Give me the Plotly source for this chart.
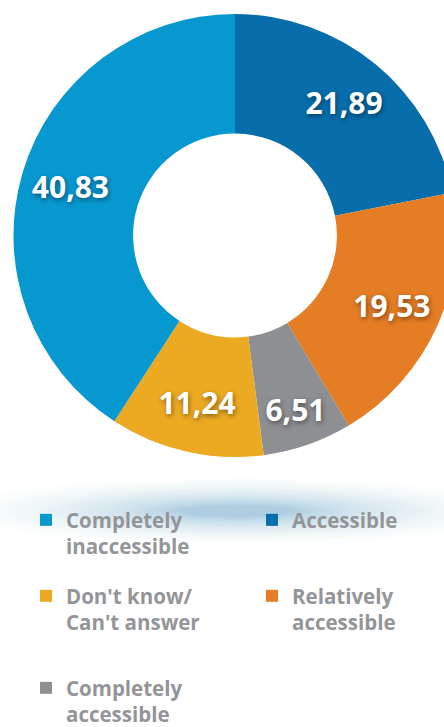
import plotly.graph_objects as go

# ---- data ----
categories = ["Accessible", "Relatively accessible", "Completely accessible",
              "Don't know/ Can't answer", "Completely inaccessible"]
values = [21.89, 19.53, 6.51, 11.24, 40.83]
colors = ["#076dab", "#e57d25", "#8e8f93", "#ecaa22", "#0898d0"]
legend_labels = ["Accessible", "Relatively<br>accessible", "Completely<br>accessible",
                 "Don't know/<br>Can't answer", "Completely<br>inaccessible"]
legend_slot = ["legend2", "legend4", "legend5", "legend3", "legend"]

W, H = 460, 745          # page is clipped to 444x727 below
FONT = "Open Sans"
pie_domain = dict(x=[13.5 / W, 456.5 / W], y=[(H - 457) / H, (H - 14) / H])

fig = go.Figure()
# coloured ring
fig.add_trace(go.Pie(
    labels=categories, values=values, sort=False, direction="clockwise",
    rotation=0, hole=0.46,
    marker=dict(colors=colors, line=dict(width=0)),
    textinfo="none", domain=pie_domain,
    showlegend=False, hoverinfo="label+value",
))
# value labels (transparent ring placed so labels sit toward the outer edge)
fig.add_trace(go.Pie(
    labels=categories, values=values, sort=False, direction="clockwise",
    rotation=0, hole=0.55,
    marker=dict(colors=["rgba(0,0,0,0)"] * len(values), line=dict(width=0)),
    texttemplate="%{value:.2f}", textposition="inside",
    insidetextorientation="horizontal",
    textfont=dict(family=FONT, size=30, color="white", weight="bold",
                  shadow="1px 2px 5px rgba(0,0,0,0.45)"),
    domain=pie_domain, showlegend=False, hoverinfo="skip",
))

for lab, col, lg in zip(legend_labels, colors, legend_slot):
    fig.add_trace(go.Scatter(
        x=[None], y=[None], mode="markers", name=lab, legend=lg,
        marker=dict(symbol="square", size=12, color=col),
        showlegend=True,
    ))

leg_font = dict(family=FONT, size=20.5, color="#939598", weight="bold")
def leg(x, ytop):
    return dict(x=x / W, y=(H - ytop) / H, xanchor="left", yanchor="top",
                bgcolor="rgba(0,0,0,0)", font=leg_font, valign="top",
                itemclick=False, itemdoubleclick=False)

# soft glow under the donut (stacked translucent ellipses, denser at the core)
shapes = []
cx, cy = 237, 511
n = 26
for i in range(n):
    t = i / n
    f = (1 - t) ** 1.2
    rx = 50 + 230 * f
    ry = 5 + 28 * f
    a = 0.011 + 0.032 * t ** 2
    shapes.append(dict(type="circle", xref="paper", yref="paper",
                       x0=(cx - rx) / W, x1=(cx + rx) / W,
                       y0=(H - (cy + ry)) / H, y1=(H - (cy - ry)) / H,
                       fillcolor=f"rgba(80,150,205,{a:.4f})", line=dict(width=0),
                       layer="below"))

fig.update_layout(
    width=W, height=H, margin=dict(l=0, r=0, t=0, b=0),
    paper_bgcolor="white", plot_bgcolor="white",
    separators=", ",
    xaxis=dict(visible=False), yaxis=dict(visible=False),
    legend=leg(26, 500), legend2=leg(252, 500),
    legend3=leg(26, 576), legend4=leg(252, 576),
    legend5=leg(26, 668),
    shapes=shapes,
)

fig.write_html("out.html", config={"displayModeBar": False}, post_script=(
    "document.documentElement.style.margin='0';"
    "document.documentElement.style.overflow='hidden';"
    "document.body.style.margin='0';"
    "document.body.style.overflow='hidden';"
    "document.body.style.width='444px';"
    "var gd=document.getElementById('{plot_id}');"
    "gd.parentElement.style.width='444px';"
    "gd.parentElement.style.height='727px';"
    "gd.parentElement.style.overflow='hidden';"))
